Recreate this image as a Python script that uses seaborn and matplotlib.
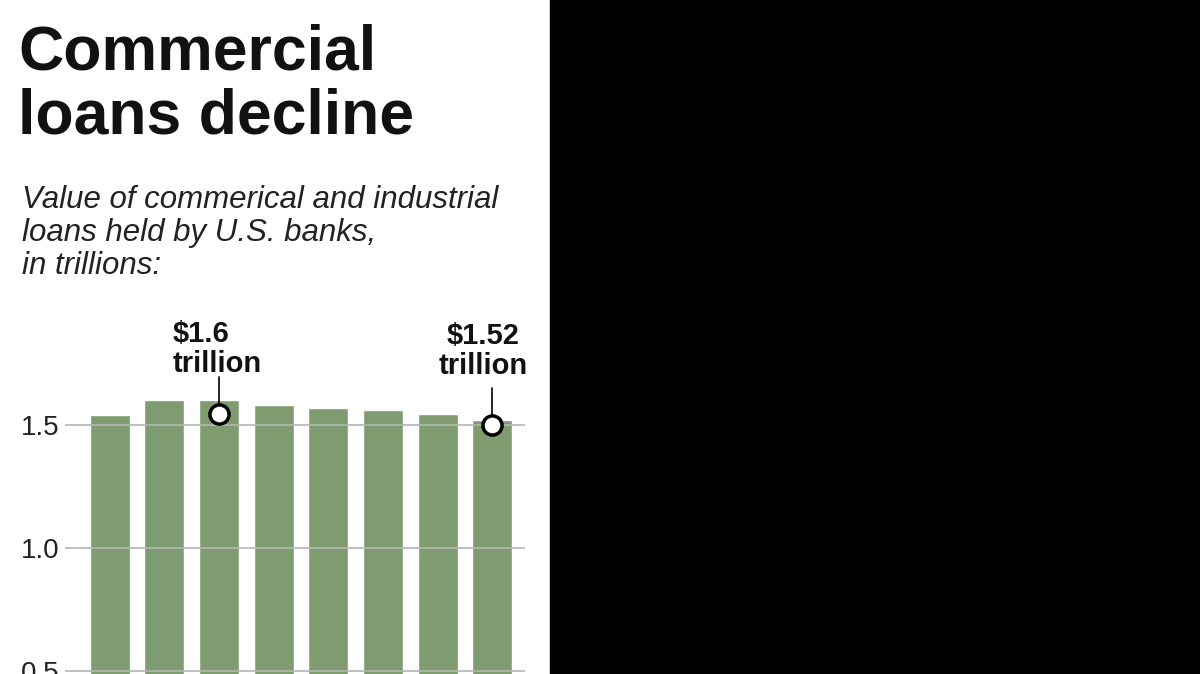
import matplotlib
matplotlib.use("Agg")
import matplotlib.pyplot as plt
import matplotlib.patches as mpatches
import seaborn as sns
import pandas as pd

# values, in trillions of dollars
periods = ["Q1", "Q2", "Q3", "Q4", "Q5", "Q6", "Q7", "Q8"]
loans = [1.54, 1.60, 1.60, 1.58, 1.57, 1.56, 1.545, 1.52]
y_ticks = [0.5, 1.0, 1.5]
y_tick_labels = ["0.5", "1.0", "1.5"]
callouts = [(2, 1.545, "$1.6\ntrillion", -46, 36, "left"),
            (7, 1.50, "$1.52\ntrillion", -9, 45, "center")]

sns.set_style("white")
plt.rcParams['font.family'] = ['Liberation Sans', 'DejaVu Sans']

fig = plt.figure(figsize=(12, 6.74), dpi=100)
fig.patches.append(mpatches.Rectangle((550 / 1200, 0), 650 / 1200, 1,
                                      transform=fig.transFigure, color="black", zorder=0))

ax = fig.add_axes([65 / 1200, -0.178, 460 / 1200, 0.639])
df = pd.DataFrame({"period": periods, "loans": loans})
sns.barplot(data=df, x="period", y="loans", color="#7f9b70", saturation=1,
            width=0.73, ax=ax, zorder=1)
ax.set_xlim(-0.82, 7.6)
ax.set_ylim(0, 1.75)
for t in y_ticks:
    ax.axhline(t, color="#b5b5b5", lw=1.2, zorder=2)
ax.set_yticks(y_ticks)
ax.set_yticklabels(y_tick_labels, fontsize=20, color="#222222")
ax.tick_params(axis="y", length=0, pad=4)
ax.set_xticks([])
ax.set_xlabel("")
ax.set_ylabel("")
sns.despine(ax=ax, left=True, bottom=True)
ax.patch.set_alpha(0)

for i, v, label, dx, dy, ha in callouts:
    ax.plot([i, i], [v, v + 0.15], color="black", lw=1.2, zorder=3)
    ax.scatter([i], [v], s=190, color="white", edgecolor="black", linewidth=2.5, zorder=4)
    ax.annotate(label, xy=(i, v), xytext=(dx, dy), textcoords="offset pixels",
                ha=ha, va="bottom", fontsize=21, fontweight="bold",
                linespacing=1.1, color="#111111")

fig.text(18 / 1200, 1 - 24 / 674, "Commercial\nloans decline", fontsize=45,
         fontweight="bold", va="top", ha="left", linespacing=1.1, color="#111111")
fig.text(22 / 1200, 1 - 185 / 674,
         "Value of commerical and industrial\nloans held by U.S. banks,\nin trillions:",
         fontsize=22.5, style="italic", va="top", ha="left", color="#222222", linespacing=1.12)

fig.savefig("out.png", dpi=100)
